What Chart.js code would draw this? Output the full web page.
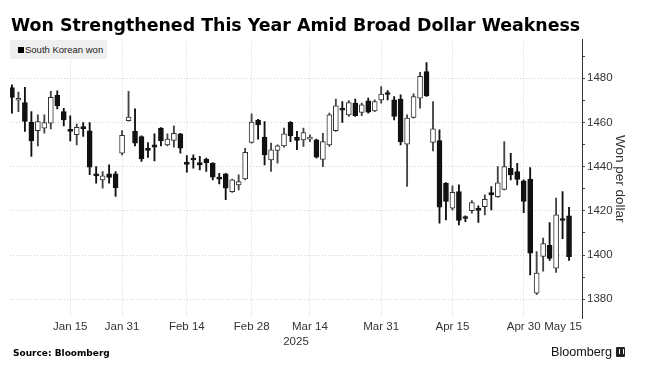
<!DOCTYPE html>
<html>
<head>
<meta charset="utf-8">
<script src="https://cdn.jsdelivr.net/npm/chart.js"></script>
<style>
  html, body { margin: 0; padding: 0; background: #fff; }
  #wrap { position: relative; width: 659px; height: 367px; overflow: hidden; }
  #chart { position: absolute; left: 0; top: 0; }
  .title { position: absolute; left: 11px; top: 15px; font: bold 17.4px "DejaVu Sans"; line-height: 20px; color: #000; white-space: nowrap; }
  .legend { position: absolute; left: 10px; top: 40px; width: 97px; height: 19px; background: #efefef; }
  .legend i { position: absolute; left: 8px; top: 7px; width: 6px; height: 6px; background: #000; }
  .legend span { position: absolute; left: 15px; top: 0; font: 9.5px "Liberation Sans"; line-height: 19px; color: #222; white-space: nowrap; }
  .source { position: absolute; left: 13px; top: 346px; font: bold 9px "DejaVu Sans"; line-height: 14px; color: #000; }
  .logo { position: absolute; left: 551px; top: 345px; font: 12.6px "Liberation Sans"; line-height: 15px; color: #111; }
  .logo b { display: inline-block; width: 9px; height: 10px; background: #222; border-radius: 1px; margin-left: 4px; vertical-align: -1px; position: relative; }
  .logo b::after { content: ""; position: absolute; left: 3px; top: 2px; width: 3px; height: 5px; border-left: 1px solid #fff; border-right: 1px solid #fff; }
</style>
</head>
<body>
<div id="wrap">
  <canvas id="chart" width="659" height="367"></canvas>
  <div class="title">Won Strengthened This Year Amid Broad Dollar Weakness</div>
  <div class="legend"><i></i><span>South Korean won</span></div>
  <div class="source">Source: Bloomberg</div>
  <div class="logo">Bloomberg<b></b></div>
</div>
<script>
// trading days, 2025
var dates = [
  "Jan 2","Jan 3","Jan 6","Jan 7","Jan 8","Jan 9","Jan 10","Jan 13","Jan 14","Jan 15",
  "Jan 16","Jan 17","Jan 20","Jan 21","Jan 22","Jan 23","Jan 24","Jan 31",
  "Feb 3","Feb 4","Feb 5","Feb 6","Feb 7","Feb 10","Feb 11","Feb 12","Feb 13","Feb 14",
  "Feb 17","Feb 18","Feb 19","Feb 20","Feb 21","Feb 24","Feb 25","Feb 26","Feb 27","Feb 28",
  "Mar 4","Mar 5","Mar 6","Mar 7","Mar 10","Mar 11","Mar 12","Mar 13","Mar 14",
  "Mar 17","Mar 18","Mar 19","Mar 20","Mar 21","Mar 24","Mar 25","Mar 26","Mar 27","Mar 28","Mar 31",
  "Apr 1","Apr 2","Apr 3","Apr 4","Apr 7","Apr 8","Apr 9","Apr 10","Apr 11","Apr 14","Apr 15",
  "Apr 16","Apr 17","Apr 18","Apr 21","Apr 22","Apr 23","Apr 24","Apr 25","Apr 28","Apr 29","Apr 30",
  "May 2","May 7","May 8","May 9","May 12","May 13","May 14"
];

var opens = [
  1475.8,1470.0,1469.0,1460.1,1456.3,1457.4,1459.6,1472.2,1464.9,1456.3,
  1454.4,1457.7,1456.2,1436.3,1434.0,1436.7,1436.7,1446.1,
  1460.8,1455.9,1453.6,1448.3,1449.8,1457.4,1449.8,1451.8,1454.8,1441.2,
  1443.2,1441.8,1443.3,1441.5,1434.6,1436.7,1428.7,1431.7,1434.4,1450.9,
  1461.1,1453.3,1443.0,1447.3,1449.4,1460.0,1453.2,1452.1,1452.4,
  1452.1,1443.3,1449.8,1456.3,1465.7,1463.4,1468.7,1464.5,1469.7,1465.2,1470.2,
  1472.8,1470.2,1470.6,1450.1,1462.2,1471.0,1483.0,1450.9,1451.8,1432.5,1421.2,
  1428.7,1416.8,1420.1,1420.5,1421.9,1428.2,1426.4,1429.7,1439.2,1437.7,1433.6,
  1434.3,1382.7,1399.4,1404.4,1394.0,1416.2,1417.7
];
var highs = [
  1477.0,1473.7,1475.9,1464.9,1463.4,1463.4,1474.0,1474.3,1466.4,1463.0,
  1459.2,1459.9,1459.9,1440.0,1437.8,1440.8,1437.8,1456.3,
  1474.0,1466.1,1453.9,1450.9,1454.8,1457.6,1454.8,1458.4,1455.0,1445.0,
  1445.3,1444.6,1443.8,1441.8,1437.0,1437.0,1434.3,1436.3,1448.3,1463.9,
  1461.4,1460.4,1450.6,1449.8,1457.4,1460.4,1455.9,1457.4,1454.4,
  1452.4,1455.1,1464.2,1470.5,1469.4,1469.9,1470.5,1468.7,1471.0,1470.2,1476.2,
  1474.4,1471.7,1472.5,1463.4,1472.9,1482.6,1487.1,1469.4,1456.6,1432.8,1431.3,
  1431.7,1417.7,1424.6,1422.2,1427.2,1431.0,1440.0,1451.3,1446.0,1441.5,1434.0,
  1439.6,1401.6,1407.7,1414.7,1425.7,1428.7,1421.6
];
var lows = [
  1464.2,1464.9,1455.9,1444.6,1449.4,1455.1,1457.1,1466.1,1458.4,1451.6,
  1449.8,1453.6,1436.3,1432.5,1430.2,1432.5,1426.5,1445.3,
  1460.5,1449.4,1442.3,1444.1,1442.6,1449.4,1449.4,1448.8,1446.1,1437.5,
  1439.3,1438.5,1437.8,1434.0,1432.2,1425.0,1428.3,1429.5,1434.0,1450.6,
  1452.4,1440.8,1437.8,1441.5,1448.8,1451.3,1447.6,1449.1,1451.3,
  1443.8,1440.0,1449.1,1455.9,1460.0,1462.7,1462.7,1463.0,1464.2,1464.9,1468.7,
  1470.2,1461.1,1449.8,1431.0,1461.9,1466.4,1471.7,1447.1,1414.4,1415.9,1420.4,
  1413.6,1415.1,1418.9,1414.7,1418.1,1420.4,1426.0,1429.5,1434.0,1431.7,1419.2,
  1391.0,1382.0,1392.7,1397.6,1392.1,1407.4,1397.6
];
var closes = [
  1471.3,1470.5,1460.4,1451.6,1460.4,1459.9,1471.3,1467.6,1461.1,1455.9,
  1457.8,1457.2,1439.7,1435.8,1435.8,1435.1,1430.5,1454.1,
  1462.4,1450.6,1443.5,1447.3,1448.8,1451.6,1452.5,1455.1,1448.3,1441.0,
  1443.0,1440.8,1441.8,1435.2,1434.3,1430.2,1434.0,1433.2,1446.4,1460.1,
  1458.9,1445.3,1447.6,1449.4,1454.8,1453.9,1451.8,1455.4,1452.9,
  1444.3,1451.3,1463.4,1467.5,1465.5,1469.0,1463.0,1467.9,1464.6,1469.4,1472.8,
  1472.6,1462.7,1451.3,1461.9,1471.7,1480.8,1472.0,1457.1,1421.6,1424.2,1428.3,
  1415.6,1416.5,1423.7,1420.2,1425.2,1427.2,1432.7,1440.0,1436.2,1434.2,1424.2,
  1400.8,1391.8,1405.2,1398.4,1418.2,1415.6,1399.3
];

var tickDates = ["Jan 15","Jan 31","Feb 14","Feb 28","Mar 14","Mar 31","Apr 15","Apr 30"];
var endLabel = "May 15";
var yTicks = [1380,1390,1400,1410,1420,1430,1440,1450,1460,1470,1480,1490];

var xMin = -0.3, xMax = 88;
var gridColor = '#d2d2d2';
var tickFont = { family: 'Liberation Sans', size: 11.5 };

var wicks = dates.map(function (d, i) { return { x: i, y: [lows[i], highs[i]] }; });
var bodies = dates.map(function (d, i) { return { x: i, y: [opens[i], closes[i]] }; });
var isUp = function (i) { return closes[i] >= opens[i]; };

new Chart(document.getElementById('chart'), {
  type: 'bar',
  data: {
    datasets: [
      {
        label: 'body',
        data: bodies,
        order: 0,
        grouped: false,
        barThickness: 5,
        minBarLength: 2,
        borderWidth: 1,
        borderSkipped: false,
        borderColor: function (c) { return isUp(c.dataIndex) ? '#333' : '#111'; },
        backgroundColor: function (c) { return isUp(c.dataIndex) ? '#fff' : '#111'; }
      },
      {
        label: 'wick',
        data: wicks,
        order: 1,
        grouped: false,
        barThickness: 1.2,
        borderWidth: 0,
        backgroundColor: function (c) { return isUp(c.dataIndex) ? '#444' : '#111'; }
      }
    ]
  },
  options: {
    responsive: false, animation: false, devicePixelRatio: 1,
    layout: { padding: { top: 39.5, left: 10, right: 31, bottom: 18 } },
    plugins: { legend: { display: false }, tooltip: { enabled: false }, title: { display: false } },
    scales: {
      x: {
        type: 'linear', min: xMin, max: xMax, offset: false,
        afterBuildTicks: function (axis) {
          var t = [{ value: xMin }];
          tickDates.forEach(function (d) { t.push({ value: dates.indexOf(d) }); });
          t.push({ value: xMax });
          axis.ticks = t;
        },
        afterFit: function (axis) { axis.height = 31; },
        ticks: {
          autoSkip: false, maxRotation: 0, align: 'inner', padding: 2,
          font: tickFont, color: '#333',
          callback: function (v, i, t) {
            if (i === 0) return '';
            if (i === t.length - 1) return endLabel;
            return tickDates[i - 1];
          }
        },
        grid: {
          offset: false, drawTicks: false,
          color: function (c) { return (c.index === 0 || c.index === tickDates.length + 1) ? 'rgba(0,0,0,0)' : gridColor; }
        },
        border: { display: false, dash: [1, 2] },
        title: { display: true, text: '2025', font: tickFont, color: '#333', padding: { top: 0, bottom: 0 } }
      },
      y: {
        position: 'right', min: 1371.5, max: 1497.5, beginAtZero: false,
        afterBuildTicks: function (axis) { axis.ticks = yTicks.map(function (v) { return { value: v }; }); },
        afterFit: function (axis) { axis.width = 46; },
        ticks: {
          padding: 2, font: tickFont, color: '#333',
          callback: function (v) { return v % 20 === 0 ? String(v) : ''; }
        },
        grid: {
          color: function (c) { return c.tick && c.tick.value % 20 === 0 ? gridColor : 'rgba(0,0,0,0)'; },
          tickColor: '#444', tickLength: 3
        },
        border: { display: true, color: '#333', width: 1, dash: [1, 2] },
        title: { display: true, text: 'Won per dollar', font: { family: 'Liberation Sans', size: 13.5 }, color: '#333', padding: { top: 0, bottom: 0 } }
      }
    }
  }
});
</script>
</body>
</html>
